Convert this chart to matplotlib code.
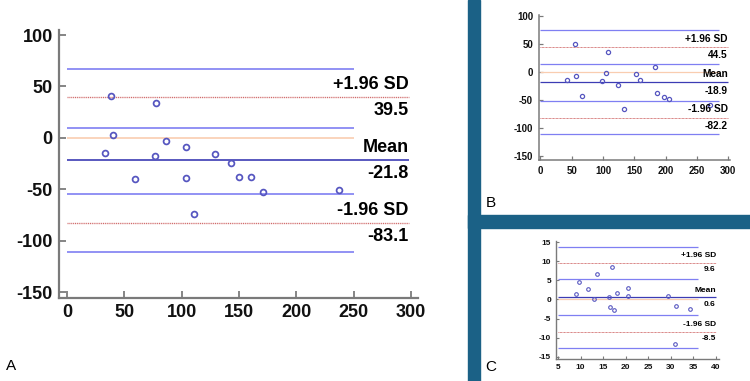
import matplotlib
matplotlib.use("Agg")
import matplotlib.pyplot as plt
from matplotlib.patches import Rectangle

plt.rcParams['font.family'] = ['Liberation Sans', 'DejaVu Sans']
plt.rcParams['axes.unicode_minus'] = False

# panel A
a_x = [38, 78, 40, 33, 86, 77, 103.5, 59, 103.5, 110.5, 129, 143, 150, 160, 171, 237]
a_y = [41, 34, 3, -15, -3.3, -17.3, -8.5, -40, -38.6, -74.2, -15.7, -24.2, -38.2, -37.9, -52.3, -51]
a_mean, a_upper, a_lower = -21.8, 39.5, -83.1
a_ci = [66.5, 10, -55, -111.5]

# panel B
b_x = [55, 108.5, 183, 42.6, 57, 66.5, 98, 104.3, 123.4, 134, 152.6, 158.5, 185.6, 197.3, 204.8, 270.7]
b_y = [50, 35, 9, -15.5, -8.3, -43, -17.3, -3, -23.2, -66, -4.2, -15.5, -38.7, -45.8, -48.8, -60]
b_mean, b_upper, b_lower = -18.9, 44.5, -82.2
b_ci = [73.8, 13.7, -51.8, -112]

# panel C
c_x = [16.9, 13.6, 9.7, 11.6, 9.1, 13, 16.3, 18.1, 20.5, 20.6, 16.5, 17.4, 29.5, 31.1, 34.3, 31]
c_y = [8.4, 6.7, 4.6, 2.8, 1.4, 0.2, 0.7, 1.8, 3.1, 1, -2.1, -2.7, 1, -1.8, -2.5, -11.8]
c_mean, c_upper, c_lower = 0.6, 9.6, -8.5
c_ci = [13.8, 5.3, -4.1, -12.6]

BLUE = '#7f7ff2'
RED = '#d06a6a'
PEACH = '#f9cdb0'
DARK = '#3c3cb4'
GRAY = '#7a7a7a'


def panel(ax, xs, ys, mean, upper, lower, ci, x0, x_blue, x_end,
          xlim, ylim, xticks, yticks, fs, tfs, ms, lw, off, tl, pad):
    ax.hlines(ci, x0, x_blue, color=BLUE, lw=lw)
    ax.hlines(0, x0, x_blue, color=PEACH, lw=lw)
    ax.hlines([upper, lower], x0, x_end, color=RED, lw=lw * 0.8, linestyles=(0, (0.8, 0.6)))
    ax.hlines(mean, x0, x_end, color=DARK, lw=lw)
    ax.plot(xs, ys, 'o', mfc='none', mec='#5656c0', ms=ms, mew=ms * 0.3)
    for val, top in [(upper, '+1.96 SD'), (mean, 'Mean'), (lower, '-1.96 SD')]:
        ax.annotate(top, (x_end, val), xytext=(0, off), textcoords='offset points',
                    ha='right', va='center', fontsize=fs, fontweight='bold')
        ax.annotate(str(val), (x_end, val), xytext=(0, -off), textcoords='offset points',
                    ha='right', va='center', fontsize=fs, fontweight='bold')
    ax.set_xlim(xlim)
    ax.set_ylim(ylim)
    ax.set_xticks(xticks)
    ax.set_yticks(yticks)
    for s in ['top', 'right']:
        ax.spines[s].set_visible(False)
    for s in ['left', 'bottom']:
        ax.spines[s].set_color(GRAY)
        ax.spines[s].set_linewidth(tl[1])
    ax.tick_params(direction='in', length=tl[0], width=tl[1] * 0.8, color=GRAY,
                   labelsize=tfs, pad=pad, labelcolor='#111111')
    for lab in ax.get_xticklabels() + ax.get_yticklabels():
        lab.set_fontweight('bold')
    ax.patch.set_alpha(0)


fig = plt.figure(figsize=(7.5, 3.81), dpi=100)
W, H = 750, 381

axA = fig.add_axes([59 / W, 83 / H, 359 / W, 268 / H])
panel(axA, a_x, a_y, a_mean, a_upper, a_lower, a_ci, 0, 250, 298,
      (-7, 306), (-155.8, 104.9), range(0, 301, 50), range(-150, 101, 50),
      13, 13, 4.2, 1.2, 9.5, (5, 1.6), 4.5)

axB = fig.add_axes([539.3 / W, 221 / H, 190.7 / W, 145 / H])
panel(axB, b_x, b_y, b_mean, b_upper, b_lower, b_ci, 0, 285, 299.5,
      (-1.6, 302.7), (-157.7, 101.5), range(0, 301, 50), range(-150, 101, 50),
      7.3, 7, 3, 0.9, 6, (3, 1.1), 4.5)

axC = fig.add_axes([556 / W, 22 / H, 163 / W, 118.3 / H])
panel(axC, c_x, c_y, c_mean, c_upper, c_lower, c_ci, 5, 36, 40,
      (4.56, 40.7), (-15.6, 15.4), range(5, 41, 5), range(-15, 16, 5),
      6, 6, 2.6, 0.9, 5, (2.5, 1.0), 3.6)

# dark separators
fig.patches.append(Rectangle((468 / W, 0), 12 / W, 1, transform=fig.transFigure,
                             color='#1b6186', zorder=0))
fig.patches.append(Rectangle((468 / W, (381 - 227.5) / H), 282 / W, 12.5 / H,
                             transform=fig.transFigure, color='#1b6186', zorder=0))

fig.text(11 / W, 1 - 366 / H, 'A', fontsize=11, ha='center', va='center')
fig.text(491 / W, 1 - 203 / H, 'B', fontsize=11, ha='center', va='center')
fig.text(491 / W, 1 - 366.7 / H, 'C', fontsize=11, ha='center', va='center')

fig.savefig('out.png', dpi=100)
